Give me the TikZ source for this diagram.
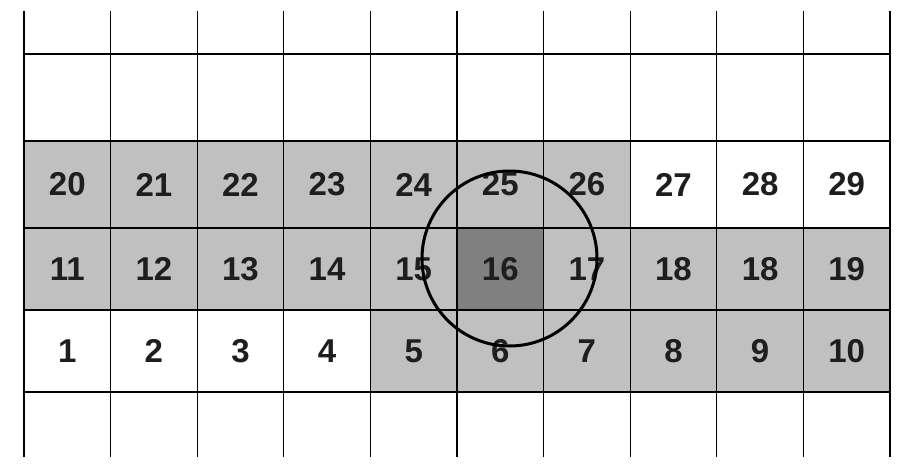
\documentclass[tikz,border=0pt]{standalone}
\usepackage{fontspec}
\usepackage{xcolor}
\usepackage{tikz}
\usetikzlibrary{positioning}
\newfontfamily\cellfont{Liberation Sans}
\definecolor{lightcell}{HTML}{C0C0C0}
\definecolor{darkcell}{HTML}{808080}
\definecolor{celltext}{HTML}{1E1E1E}
\tikzset{
  cellwhite/.style={rectangle, inner sep=0pt, outer sep=0pt, minimum width=86.6pt, minimum height=82pt, text=celltext, font=\cellfont\bfseries\fontsize{33}{36}\selectfont},
  cellgray/.style={cellwhite, fill=lightcell},
  cellmark/.style={cellwhite, fill=darkcell},
  gridline/.style={draw=black, line width=1.1pt},
  ringline/.style={draw=black, line width=3pt}
}
\begin{document}
\begin{tikzpicture}[x=1pt, y=-1pt, node distance=0pt]
\useasboundingbox (0,0) rectangle (898,466);

\node[cellgray, minimum height=87pt, anchor=north west] (a0) at (24,141) {20};
\node[cellgray, minimum height=87pt, right=of a0] (a1) {21};
\node[cellgray, minimum height=87pt, right=of a1] (a2) {22};
\node[cellgray, minimum height=87pt, right=of a2] (a3) {23};
\node[cellgray, minimum height=87pt, right=of a3] (a4) {24};
\node[cellgray, minimum height=87pt, right=of a4] (a5) {25};
\node[cellgray, minimum height=87pt, right=of a5] (a6) {26};
\node[cellwhite, minimum height=87pt, right=of a6] (a7) {27};
\node[cellwhite, minimum height=87pt, right=of a7] (a8) {28};
\node[cellwhite, minimum height=87pt, right=of a8] (a9) {29};

\node[cellgray, anchor=north west] (b0) at (24,228) {11};
\node[cellgray, right=of b0] (b1) {12};
\node[cellgray, right=of b1] (b2) {13};
\node[cellgray, right=of b2] (b3) {14};
\node[cellgray, right=of b3] (b4) {15};
\node[cellmark, right=of b4] (b5) {16};
\node[cellgray, right=of b5] (b6) {17};
\node[cellgray, right=of b6] (b7) {18};
\node[cellgray, right=of b7] (b8) {18};
\node[cellgray, right=of b8] (b9) {19};

\node[cellwhite, anchor=north west] (c0) at (24,310) {1};
\node[cellwhite, right=of c0] (c1) {2};
\node[cellwhite, right=of c1] (c2) {3};
\node[cellwhite, right=of c2] (c3) {4};
\node[cellgray, right=of c3] (c4) {5};
\node[cellgray, right=of c4] (c5) {6};
\node[cellgray, right=of c5] (c6) {7};
\node[cellgray, right=of c6] (c7) {8};
\node[cellgray, right=of c7] (c8) {9};
\node[cellgray, right=of c8] (c9) {10};

% grid
\draw[gridline] (24,11) -- (24,457);
\draw[gridline] (110.6,11) -- (110.6,457);
\draw[gridline] (197.2,11) -- (197.2,457);
\draw[gridline] (283.8,11) -- (283.8,457);
\draw[gridline] (370.4,11) -- (370.4,457);
\draw[gridline] (457,11) -- (457,457);
\draw[gridline] (543.6,11) -- (543.6,457);
\draw[gridline] (630.2,11) -- (630.2,457);
\draw[gridline] (716.8,11) -- (716.8,457);
\draw[gridline] (803.4,11) -- (803.4,457);
\draw[gridline] (890,11) -- (890,457);
\draw[gridline] (24,54) -- (890,54);
\draw[gridline] (24,141) -- (890,141);
\draw[gridline] (24,228) -- (890,228);
\draw[gridline] (24,310) -- (890,310);
\draw[gridline] (24,392) -- (890,392);
\draw[gridline, line width=2pt] (c4.south west) -- (c9.south east);

% search radius
\coordinate (ring) at (509.5,258.5);
\draw[ringline] (ring) circle [radius=87.5pt];
\end{tikzpicture}
\end{document}
